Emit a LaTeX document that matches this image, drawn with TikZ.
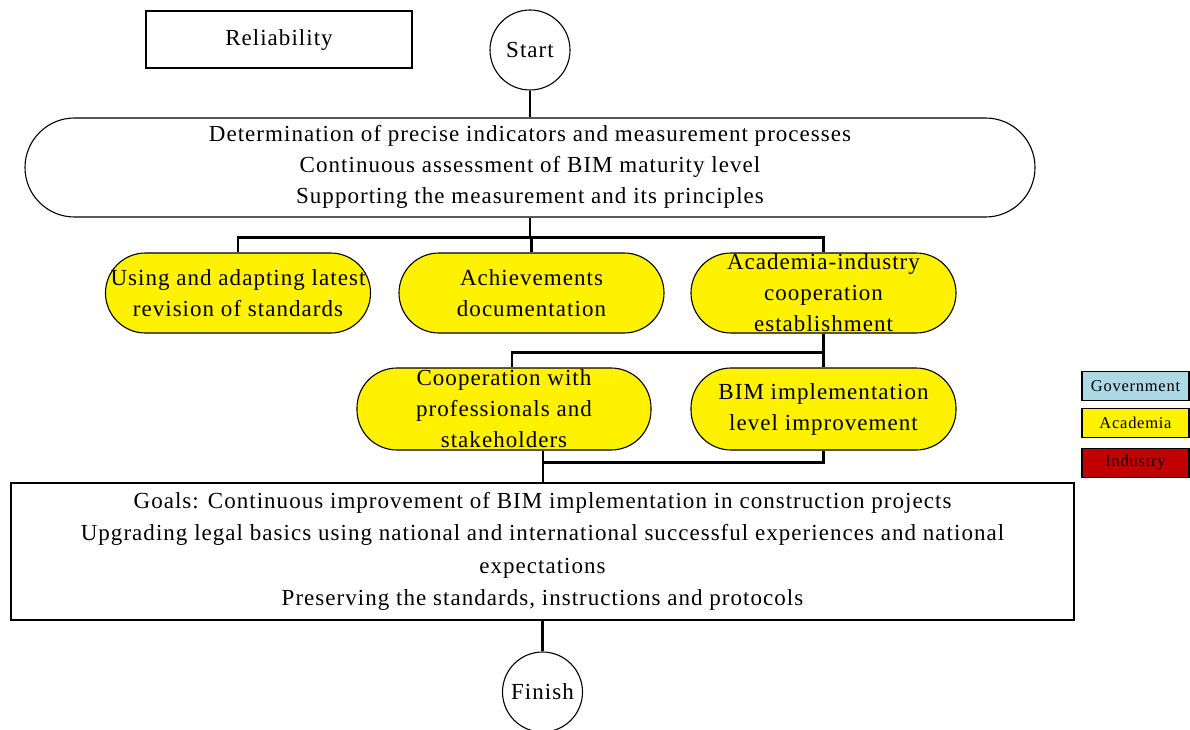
\documentclass[tikz,border=0pt]{standalone}
\usepackage{fontspec}
\setmainfont[LetterSpace=4.5]{Liberation Serif}
\usetikzlibrary{shapes,calc}
\definecolor{govblue}{HTML}{ADD8E6}
\definecolor{inddark}{HTML}{C00000}
\tikzstyle{line} = [draw, line width=2.2pt]
\tikzstyle{block} = [draw, rectangle, text centered, align=center, line width=1.8pt]
\tikzstyle{cloud} = [draw, rectangle, rounded corners=49.5pt, text centered, align=center, line width=1.1pt]
\tikzstyle{pill} = [draw, rectangle, rounded corners=40pt, fill=yellow, text centered, align=center, line width=1.1pt, minimum width=265pt, minimum height=80pt, inner xsep=0pt, inner ysep=0pt]
\tikzstyle{terminal} = [draw, circle, minimum size=80pt, inner sep=0pt, line width=1.1pt]
\tikzstyle{legend} = [draw, rectangle, minimum width=107pt, minimum height=29pt, inner sep=0pt, font=\fontsize{16.5}{18}\selectfont, line width=1.1pt]

\begin{document}
\begin{tikzpicture}[x=1pt, y=1pt, node distance=100pt, font=\fontsize{23}{31}\selectfont]
        \useasboundingbox (0,0) rectangle (1190,-730);
        \node[block, minimum width=266pt, minimum height=57pt, text depth=3pt] (reliab) at (279,-39.5) {Reliability};
        \node[terminal] (start) at (530,-50) {Start};
        \node[cloud, below of=start, node distance=117.5pt, minimum width=1010pt, minimum height=99pt] (measure) {Determination of precise indicators and measurement processes\\Continuous assessment of BIM maturity level\\Supporting the measurement and its principles\rule[-7pt]{0pt}{7pt}};
        \node[pill, below of=measure, node distance=125.5pt, xshift=1.5pt] (achieve) {Achievements\\documentation};
        \node[pill, left of=achieve, node distance=293.5pt] (standards) {Using and adapting latest\\revision of standards};
        \node[pill, right of=achieve, node distance=292pt] (coop) {Academia-industry\\cooperation\\establishment};
        \node[pill, below of=coop, node distance=116pt, minimum height=82pt] (bimlevel) {BIM implementation\\level improvement};
        \node[pill, left of=bimlevel, node distance=319.5pt, minimum width=294pt, minimum height=82pt] (profs) {Cooperation with\\professionals and\\stakeholders};
        \node[block, minimum width=1063pt, minimum height=137pt, font=\fontsize{23}{32.5}\selectfont] (goals) at (542.5,-551.5) {Goals: Continuous improvement of BIM implementation in construction projects\\Upgrading legal basics using national and international successful experiences and national\\expectations\\Preserving the standards, instructions and protocols};
        \node[terminal, below of=goals, node distance=140.5pt] (finish) {Finish};
        % legend
        \node[legend, fill=govblue] (gov) at (1135.5,-386) {Government};
        \node[legend, fill=yellow, below of=gov, node distance=37pt] (acad) {Academia};
        \node[legend, fill=inddark, below of=acad, node distance=40pt] (ind) {Industry};
        % connectors
        \path[line] (start) -- (measure);
        \path (measure.south) ++(0,-20) coordinate (bus1);
        \path[line] (measure.south) -- (bus1);
        \path[line] (standards.north) |- (bus1) -| (coop.north);
        \path[line] (achieve.north |- bus1) -- (achieve.north);
        \path[line] (coop.south) -- (bimlevel.north);
        \path (coop.south) ++(0,-19) coordinate (bus2);
        \path[line] (bus2) -| ([xshift=8pt]profs.north);
        \path (bimlevel.south) ++(0,-12) coordinate (bus3);
        \path[line] (bimlevel.south) |- ([xshift=39pt]profs.south |- bus3);
        \path[line] ([xshift=39pt]profs.south) -- ([xshift=39pt]profs.south |- goals.north);
        \path[line] (goals) -- (finish);
    \end{tikzpicture}
\end{document}
